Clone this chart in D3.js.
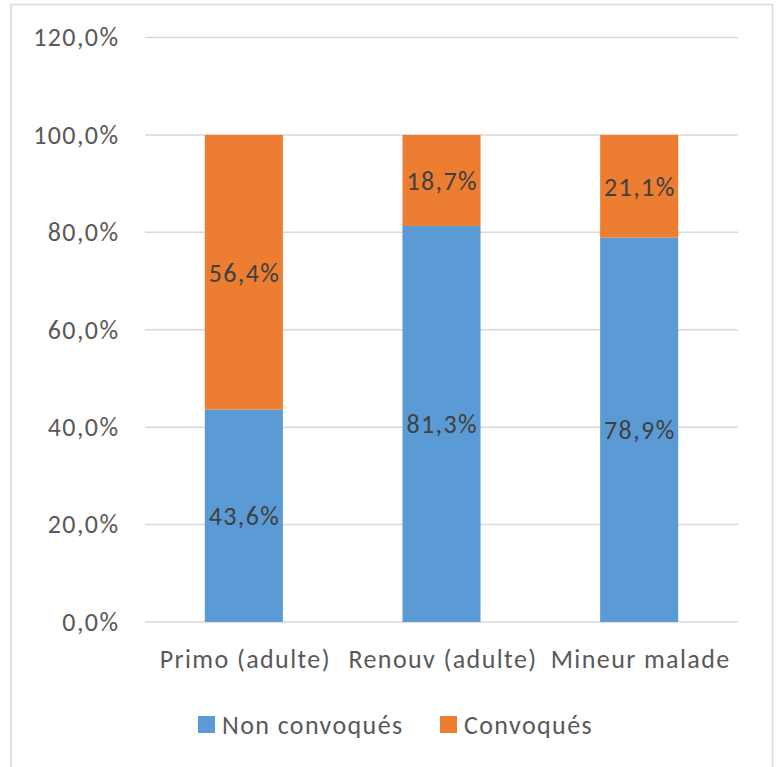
<!DOCTYPE html>
<html>
<head>
<meta charset="utf-8">
<script src="https://cdn.jsdelivr.net/npm/d3@7"></script>
<style>
  html, body { margin: 0; padding: 0; background: #fff; }
  svg { display: block; }
  text { font-family: "Carlito", "Lato", "Open Sans", sans-serif; letter-spacing: 1.4px; }
</style>
</head>
<body>
<div id="chart"></div>
<script>
// Share of files per category, split by whether the person was summoned
const categories = ["Primo (adulte)", "Renouv (adulte)", "Mineur malade"];
const nonConvoques = [43.6, 81.3, 78.9];
const convoques = [56.4, 18.7, 21.1];
const seriesNames = ["Non convoqués", "Convoqués"];
const seriesColors = ["#5B9BD5", "#ED7D31"];
const yTicks = [0, 20, 40, 60, 80, 100, 120];

const width = 779, height = 767;
const plot = { left: 145, right: 738, top: 37.5, bottom: 622 };
const fontSize = 26;
const pct = v => d3.format(".1f")(v).replace(".", ",") + "%";

const svg = d3.select("#chart").append("svg")
  .attr("width", width).attr("height", height);

// outer frame of the chart area (open at the bottom)
svg.append("path")
  .attr("d", `M11,${height + 2}V4.5H772.5V${height + 2}`)
  .attr("fill", "none").attr("stroke", "#d9d9d9").attr("stroke-width", 1.5);

const x = d3.scaleBand().domain(categories)
  .range([plot.left, plot.right])
  .paddingInner(0.605).paddingOuter(0.3025);

const y = d3.scaleLinear().domain([0, 120]).range([plot.bottom, plot.top]);

// gridlines
svg.append("g").selectAll("line").data(yTicks).join("line")
  .attr("x1", plot.left).attr("x2", plot.right)
  .attr("y1", d => y(d)).attr("y2", d => y(d))
  .attr("stroke", "#d9d9d9").attr("stroke-width", 1.5);

// y axis labels
const yAxis = d3.axisLeft(y).tickValues(yTicks)
  .tickFormat(pct).tickSize(0).tickPadding(0);
const gy = svg.append("g").attr("transform", "translate(119.4,0)").call(yAxis);
gy.select(".domain").remove();
gy.selectAll("text")
  .attr("font-family", null)
  .style("font-size", fontSize + "px").attr("fill", "#595959");

// stacked data
const rows = categories.map((c, i) => ({ cat: c, [seriesNames[0]]: nonConvoques[i], [seriesNames[1]]: convoques[i] }));
const stack = d3.stack().keys(seriesNames)(rows);

const layers = svg.append("g").selectAll("g").data(stack).join("g")
  .attr("fill", (d, i) => seriesColors[i]);

layers.selectAll("rect").data(d => d).join("rect")
  .attr("x", d => x(d.data.cat))
  .attr("width", x.bandwidth())
  .attr("y", d => y(d[1]))
  .attr("height", d => y(d[0]) - y(d[1]));

// value labels, centred in each segment
layers.selectAll("text").data(d => d.map(v => ({ v, key: d.key }))).join("text")
  .attr("x", d => x(d.v.data.cat) + x.bandwidth() / 2 + 0.7)
  .attr("y", d => y((d.v[0] + d.v[1]) / 2))
  .attr("dy", "0.36em")
  .attr("text-anchor", "middle")
  .attr("fill", "#404040")
  .style("font-size", fontSize + "px")
  .text(d => pct(d.v.data[d.key]));

// x axis labels
const xAxis = d3.axisBottom(x).tickSize(0).tickPadding(0);
const gx = svg.append("g").attr("transform", `translate(1.5,${plot.bottom + 37})`).call(xAxis);
gx.select(".domain").remove();
gx.selectAll("text")
  .attr("font-family", null).attr("dy", "0.36em")
  .style("font-size", fontSize + "px").attr("fill", "#595959");

// legend
const legendX = [198, 440];
const legend = svg.append("g").selectAll("g").data(seriesNames).join("g")
  .attr("transform", (d, i) => `translate(${legendX[i]},724.5)`);
legend.append("rect")
  .attr("x", 0).attr("y", -8.5).attr("width", 17).attr("height", 17)
  .attr("fill", (d, i) => seriesColors[i]);
legend.append("text")
  .attr("x", 24).attr("dy", "0.36em")
  .style("font-size", fontSize + "px").attr("fill", "#595959")
  .text(d => d);
</script>
</body>
</html>
